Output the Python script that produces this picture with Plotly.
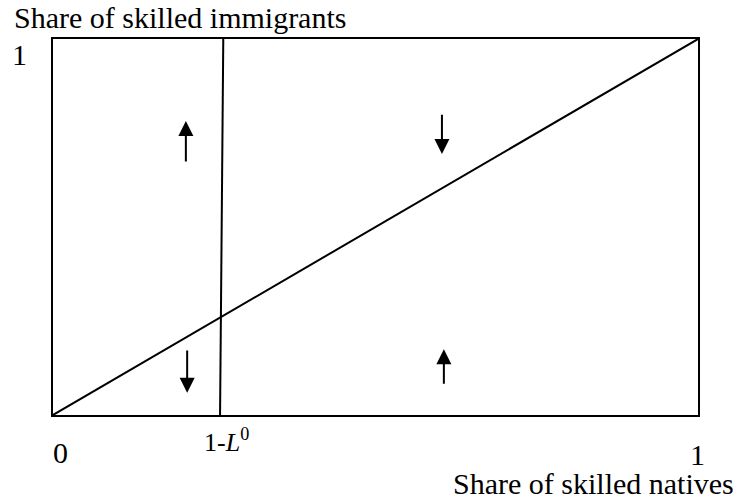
import plotly.graph_objects as go

# ---- data ----
diag_x = [0.0, 1.0]
diag_y = [0.0, 1.0]
locus_x = [0.259, 0.264]
locus_y = [0.0, 1.0]

arrow_x = [0.206, 0.603, 0.208, 0.606]
arrow_tail_y = [0.673, 0.800, 0.173, 0.082]
arrow_tip_y = [0.782, 0.694, 0.059, 0.175]

x_tick_text = ["0", "1-<i>L</i><sup>0</sup>", "1"]
y_tick_text = ["1"]
x_title = "Share of skilled natives"
y_title = "Share of skilled immigrants"

# ---- layout geometry (pixels) ----
W, H = 741, 502
L, R, T, B = 53, 698, 39, 415
PW, PH = R - L, B - T


def px(x):
    return (x - L) / PW


def py(y):
    return (B - y) / PH


FONT = "Times New Roman, Liberation Serif, serif"
BIG = 30

fig = go.Figure()
fig.add_trace(go.Scatter(x=diag_x, y=diag_y, mode="lines",
                         line=dict(color="black", width=2), hoverinfo="skip"))
fig.add_trace(go.Scatter(x=locus_x, y=locus_y, mode="lines",
                         line=dict(color="black", width=2), hoverinfo="skip"))

annotations = []
for x, y0, y1 in zip(arrow_x, arrow_tail_y, arrow_tip_y):
    annotations.append(dict(
        x=x, y=y1, ax=x, ay=y0, xref="x", yref="y", axref="x", ayref="y",
        text="", showarrow=True, arrowhead=2, arrowsize=1.5, arrowwidth=2,
        arrowcolor="black", font=dict(size=1), borderpad=0))

annotations += [
    dict(text=y_title, xref="paper", yref="paper", x=px(12), y=py(18),
         xanchor="left", yanchor="middle", showarrow=False,
         font=dict(size=BIG)),
    dict(text=y_tick_text[0], xref="paper", yref="paper", x=px(19), y=py(55),
         xanchor="center", yanchor="middle", showarrow=False,
         font=dict(size=BIG)),
    dict(text=x_tick_text[0], xref="paper", yref="paper", x=px(60), y=py(452),
         xanchor="center", yanchor="middle", showarrow=False,
         font=dict(size=BIG)),
    dict(text=x_tick_text[1], xref="paper", yref="paper", x=px(226), y=py(440),
         xanchor="center", yanchor="middle", showarrow=False,
         font=dict(size=26)),
    dict(text=x_tick_text[2], xref="paper", yref="paper", x=px(697), y=py(454),
         xanchor="center", yanchor="middle", showarrow=False,
         font=dict(size=BIG)),
    dict(text=x_title, xref="paper", yref="paper", x=px(736), y=py(483),
         xanchor="right", yanchor="middle", showarrow=False,
         font=dict(size=BIG)),
]

axis_common = dict(range=[0, 1], showgrid=False, zeroline=False,
                   showticklabels=False, ticks="", showline=True,
                   linecolor="black", linewidth=2, mirror=True, fixedrange=True)

fig.update_layout(
    width=W, height=H,
    margin=dict(l=L, r=W - R, t=T, b=H - B, pad=0),
    paper_bgcolor="white", plot_bgcolor="white",
    showlegend=False,
    font=dict(family=FONT, color="black"),
    xaxis=axis_common, yaxis=axis_common,
    annotations=annotations,
)

fig.write_html(
    "out.html",
    config={"displayModeBar": False, "staticPlot": True},
    post_script="document.body.style.margin='0';document.body.style.overflow='hidden';",
)
